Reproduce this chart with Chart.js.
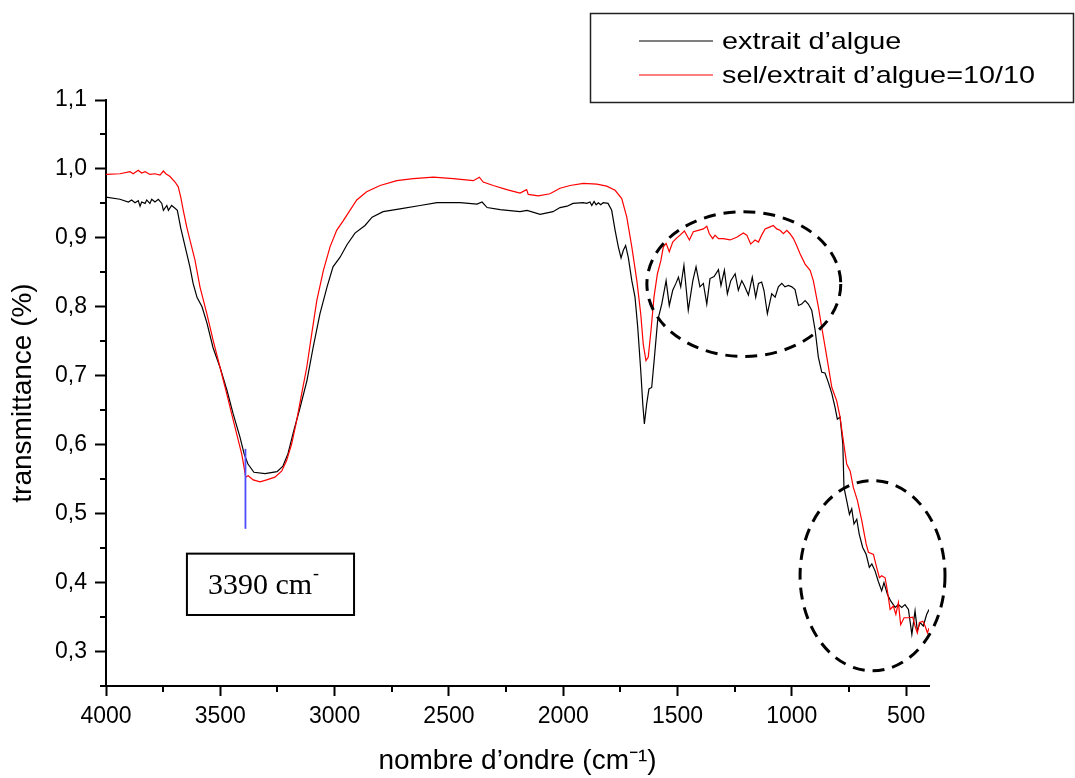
<!DOCTYPE html>
<html>
<head>
<meta charset="utf-8">
<script src="https://cdn.jsdelivr.net/npm/chart.js@4.4.1/dist/chart.umd.min.js"></script>
<style>
  html, body { margin: 0; padding: 0; background: #fff; }
  #wrap { width: 1075px; height: 778px; }
</style>
</head>
<body>
<div id="wrap"><canvas id="chart" width="1075" height="778"></canvas></div>
<script>
// extrait d'algue (black)
const algueWn = [4000, 3939, 3902, 3888, 3873, 3859, 3851, 3844, 3829, 3822, 3808, 3800, 3786, 3771, 3756, 3749, 3734, 3727, 3713, 3698,
  3688, 3681, 3673, 3650, 3633, 3619, 3602, 3580, 3558, 3532, 3501, 3471, 3444, 3414, 3396, 3379, 3353, 3304, 3252, 3226,
  3204, 3182, 3151, 3121, 3094, 3064, 3033, 3007, 2976, 2946, 2911, 2867, 2836, 2788, 2714, 2626, 2552, 2451, 2377, 2355,
  2333, 2276, 2189, 2158, 2101, 2045, 2014, 1983, 1957, 1913, 1897, 1883, 1875, 1865, 1856, 1846, 1836, 1825, 1804, 1788,
  1773, 1759, 1747, 1737, 1727, 1715, 1700, 1686, 1674, 1661, 1652, 1645, 1635, 1625, 1613, 1601, 1587, 1569, 1550, 1536,
  1521, 1507, 1496, 1486, 1472, 1453, 1433, 1419, 1402, 1387, 1372, 1358, 1340, 1321, 1310, 1295, 1282, 1267, 1248, 1234,
  1219, 1208, 1190, 1173, 1158, 1146, 1132, 1122, 1107, 1088, 1073, 1059, 1044, 1030, 1015, 1000, 986, 971, 957, 942,
  928, 913, 898, 884, 869, 855, 840, 825, 811, 801, 789, 777, 772, 760, 748, 738, 728, 716, 705, 690,
  675, 661, 650, 636, 622, 607, 597, 582, 567, 548, 534, 519, 505, 490, 475, 461, 451, 439, 425, 410, 400];
const algueT = [0.959, 0.956, 0.952, 0.955, 0.951, 0.954, 0.946, 0.952, 0.950, 0.955, 0.950, 0.956, 0.952, 0.956, 0.950, 0.940, 0.947, 0.940, 0.947, 0.943,
  0.940, 0.928, 0.914, 0.882, 0.858, 0.834, 0.814, 0.800, 0.776, 0.741, 0.712, 0.679, 0.645, 0.611, 0.587, 0.572, 0.560, 0.558, 0.561, 0.569,
  0.587, 0.616, 0.654, 0.693, 0.741, 0.790, 0.829, 0.858, 0.872, 0.890, 0.907, 0.918, 0.930, 0.938, 0.942, 0.947, 0.951, 0.951, 0.949, 0.952,
  0.944, 0.941, 0.938, 0.940, 0.934, 0.938, 0.944, 0.946, 0.950, 0.951, 0.950, 0.952, 0.947, 0.953, 0.948, 0.951, 0.948, 0.951, 0.950, 0.940,
  0.911, 0.887, 0.871, 0.882, 0.889, 0.871, 0.838, 0.814, 0.770, 0.708, 0.659, 0.630, 0.659, 0.681, 0.683, 0.727, 0.780, 0.804, 0.838, 0.802,
  0.824, 0.834, 0.843, 0.829, 0.860, 0.795, 0.838, 0.858, 0.829, 0.834, 0.804, 0.841, 0.844, 0.854, 0.831, 0.853, 0.819, 0.838, 0.848, 0.824,
  0.838, 0.831, 0.817, 0.843, 0.814, 0.834, 0.836, 0.824, 0.790, 0.819, 0.814, 0.829, 0.834, 0.829, 0.831, 0.829, 0.825, 0.802, 0.804, 0.809,
  0.804, 0.795, 0.766, 0.727, 0.705, 0.704, 0.690, 0.674, 0.654, 0.637, 0.640, 0.601, 0.538, 0.519, 0.499, 0.507, 0.485, 0.492, 0.470, 0.451,
  0.441, 0.422, 0.427, 0.417, 0.402, 0.388, 0.400, 0.383, 0.373, 0.364, 0.368, 0.364, 0.368, 0.361, 0.325, 0.359, 0.330, 0.342, 0.337, 0.354, 0.361];

// sel/extrait d'algue=10/10 (red)
const selWn = [4000, 3939, 3895, 3881, 3859, 3844, 3829, 3808, 3786, 3764, 3749, 3738, 3720, 3698, 3684, 3673, 3662, 3647, 3633, 3611,
  3589, 3559, 3531, 3501, 3472, 3443, 3421, 3406, 3396, 3389, 3378, 3356, 3326, 3297, 3261, 3231, 3210, 3188, 3166, 3144,
  3122, 3100, 3078, 3049, 3020, 2991, 2962, 2933, 2903, 2860, 2801, 2728, 2656, 2568, 2481, 2393, 2367, 2350, 2306, 2247,
  2189, 2160, 2153, 2109, 2058, 2014, 1970, 1912, 1853, 1810, 1773, 1744, 1722, 1700, 1678, 1661, 1650, 1638, 1628, 1616,
  1603, 1588, 1573, 1562, 1550, 1536, 1521, 1503, 1489, 1470, 1448, 1431, 1409, 1387, 1372, 1361, 1346, 1336, 1321, 1300,
  1270, 1241, 1212, 1197, 1180, 1161, 1146, 1132, 1117, 1095, 1081, 1066, 1052, 1037, 1022, 1008, 993, 979, 964, 942,
  920, 906, 884, 869, 847, 825, 804, 789, 777, 760, 745, 731, 713, 694, 675, 665, 643, 629, 617, 607,
  592, 582, 570, 556, 545, 534, 524, 509, 490, 471, 461, 451, 442, 427, 417, 407, 400];
const selT = [0.992, 0.993, 0.996, 0.993, 0.998, 0.994, 0.996, 0.992, 0.993, 0.991, 0.997, 0.993, 0.989, 0.981, 0.974, 0.959, 0.940, 0.916, 0.897, 0.868,
  0.829, 0.790, 0.751, 0.712, 0.674, 0.635, 0.606, 0.586, 0.567, 0.553, 0.555, 0.549, 0.546, 0.549, 0.553, 0.562, 0.577, 0.601, 0.635, 0.674,
  0.712, 0.761, 0.809, 0.853, 0.887, 0.911, 0.925, 0.940, 0.955, 0.967, 0.976, 0.983, 0.986, 0.988, 0.986, 0.983, 0.988, 0.981, 0.976, 0.970,
  0.965, 0.970, 0.963, 0.961, 0.964, 0.972, 0.976, 0.979, 0.978, 0.975, 0.969, 0.957, 0.930, 0.887, 0.838, 0.790, 0.746, 0.722, 0.727, 0.766,
  0.814, 0.848, 0.867, 0.887, 0.892, 0.880, 0.894, 0.900, 0.904, 0.910, 0.897, 0.909, 0.911, 0.913, 0.917, 0.906, 0.899, 0.904, 0.899, 0.899,
  0.897, 0.901, 0.907, 0.904, 0.891, 0.897, 0.894, 0.904, 0.913, 0.916, 0.918, 0.913, 0.911, 0.906, 0.911, 0.906, 0.899, 0.889, 0.877, 0.862,
  0.853, 0.838, 0.800, 0.770, 0.727, 0.683, 0.664, 0.640, 0.611, 0.572, 0.562, 0.538, 0.519, 0.490, 0.456, 0.444, 0.441, 0.422, 0.407, 0.410,
  0.407, 0.388, 0.361, 0.366, 0.354, 0.371, 0.339, 0.349, 0.349, 0.350, 0.337, 0.327, 0.342, 0.344, 0.337, 0.327, 0.334];

const seriesLabels = ['extrait d’algue', 'sel/extrait d’algue=10/10'];
const seriesColors = ['#000000', '#ff0000'];

// major tick positions
const xTickValues = [4000, 3500, 3000, 2500, 2000, 1500, 1000, 500];
const yTickValues = [0.3, 0.4, 0.5, 0.6, 0.7, 0.8, 0.9, 1.0, 1.1];

// annotations, in data units
const peakMark = { wn: 3390, from: 0.478, to: 0.594 };
const peakBox = { wnLeft: 3646, wnRight: 2915, top: 0.442, bottom: 0.353, text: '3390 cm', sup: '-' };
const circled = [
  { wn: 1210, t: 0.833, rWn: 424, rT: 0.105 },
  { wn: 647, t: 0.410, rWn: 317, rT: 0.138 }
];

const SANS = '"Liberation Sans", Arial, sans-serif';
const SERIF = '"Liberation Serif", "Times New Roman", serif';

const toPoints = (xs, ys) => xs.map((x, i) => ({ x: x, y: ys[i] }));

// short minor ticks halfway between the major ones
const minorTicks = {
  id: 'minorTicks',
  afterDraw(chart) {
    const ctx = chart.ctx;
    const xs = chart.scales.x, ys = chart.scales.y;
    ctx.save();
    ctx.strokeStyle = '#000';
    ctx.lineWidth = 2;
    const mids = (scale) => {
      const v = scale.ticks.map(t => t.value).sort((a, b) => a - b);
      const out = [];
      for (let i = 0; i < v.length - 1; i++) out.push((v[i] + v[i + 1]) / 2);
      const half = (v[1] - v[0]) / 2;
      if (v[0] - half >= scale.min - 1e-9) out.push(v[0] - half);
      return out;
    };
    mids(xs).forEach(v => {
      const p = Math.round(xs.getPixelForValue(v));
      ctx.beginPath(); ctx.moveTo(p, xs.top); ctx.lineTo(p, xs.top + 6); ctx.stroke();
    });
    mids(ys).forEach(v => {
      const p = Math.round(ys.getPixelForValue(v));
      ctx.beginPath(); ctx.moveTo(ys.right - 6, p); ctx.lineTo(ys.right, p); ctx.stroke();
    });
    ctx.restore();
  }
};

const marks = {
  id: 'marks',
  afterDraw(chart) {
    const ctx = chart.ctx;
    const xs = chart.scales.x, ys = chart.scales.y;
    ctx.save();

    // blue marker at 3390
    const bx = xs.getPixelForValue(peakMark.wn);
    ctx.strokeStyle = '#4d4dff';
    ctx.lineWidth = 1.8;
    ctx.beginPath();
    ctx.moveTo(bx, ys.getPixelForValue(peakMark.to));
    ctx.lineTo(bx, ys.getPixelForValue(peakMark.from));
    ctx.stroke();

    // label box
    const l = xs.getPixelForValue(peakBox.wnLeft), r = xs.getPixelForValue(peakBox.wnRight);
    const t = ys.getPixelForValue(peakBox.top), b = ys.getPixelForValue(peakBox.bottom);
    ctx.strokeStyle = '#000';
    ctx.lineWidth = 2;
    ctx.strokeRect(l, t, r - l, b - t);
    ctx.fillStyle = '#000';
    ctx.textBaseline = 'alphabetic';
    ctx.font = '30px ' + SERIF;
    ctx.fillText(peakBox.text, l + 21, b - 21);
    const w = ctx.measureText(peakBox.text).width;
    ctx.font = '18px ' + SERIF;
    ctx.fillText(peakBox.sup, l + 22 + w, b - 36);

    // dashed ellipses
    ctx.setLineDash([12, 8]);
    ctx.lineWidth = 3;
    circled.forEach(c => {
      const cx = xs.getPixelForValue(c.wn), cy = ys.getPixelForValue(c.t);
      const rx = Math.abs(xs.getPixelForValue(c.wn + c.rWn) - cx);
      const ry = Math.abs(ys.getPixelForValue(c.t + c.rT) - cy);
      ctx.beginPath();
      ctx.ellipse(cx, cy, rx, ry, 0, 0, Math.PI * 2);
      ctx.stroke();
    });
    ctx.restore();
  }
};

// framed legend in the upper right
const boxLegend = {
  id: 'boxLegend',
  afterDraw(chart) {
    const ctx = chart.ctx;
    ctx.save();
    ctx.strokeStyle = '#222';
    ctx.lineWidth = 1.5;
    ctx.strokeRect(590.5, 13.5, 483, 89);
    chart.data.datasets.forEach((ds, i) => {
      const yy = 41 + i * 34;
      ctx.strokeStyle = ds.borderColor;
      ctx.lineWidth = 1.2;
      ctx.beginPath(); ctx.moveTo(639, yy); ctx.lineTo(713, yy); ctx.stroke();
      ctx.fillStyle = '#000';
      ctx.font = '24px ' + SANS;
      ctx.textBaseline = 'middle';
      ctx.save();
      ctx.translate(722, yy + 1);
      ctx.scale(1.2, 1);
      ctx.fillText(ds.label, 0, 0);
      ctx.restore();
    });
    ctx.restore();
  }
};

new Chart(document.getElementById('chart'), {
  type: 'line',
  data: {
    datasets: [
      { label: seriesLabels[0], data: toPoints(algueWn, algueT), borderColor: seriesColors[0], borderWidth: 1.2, pointRadius: 0, tension: 0, order: 1 },
      { label: seriesLabels[1], data: toPoints(selWn, selT), borderColor: seriesColors[1], borderWidth: 1.2, pointRadius: 0, tension: 0, order: 0 }
    ]
  },
  options: {
    responsive: false,
    animation: false,
    layout: { padding: { left: 0, top: 100, right: 146, bottom: 0 } },
    plugins: { legend: { display: false }, tooltip: { enabled: false } },
    scales: {
      x: {
        type: 'linear',
        reverse: true,
        min: 400,
        max: 4000,
        border: { display: true, color: '#000', width: 2 },
        grid: { display: true, drawOnChartArea: false, drawTicks: true, tickLength: 10, tickColor: '#000', tickWidth: 2 },
        afterBuildTicks(s) { s.ticks = xTickValues.map(v => ({ value: v })); },
        ticks: {
          autoSkip: false, maxRotation: 0, padding: 7,
          color: '#000', font: { family: SANS, size: 23 },
          callback: v => String(v)
        },
        title: { display: true, text: 'nombre d’ondre (cm⁻¹)', color: '#000', font: { family: SANS, size: 28 }, padding: { top: 0, bottom: 0 } },
        afterFit(s) { s.height = 92; }
      },
      y: {
        type: 'linear',
        min: 0.25,
        max: 1.1,
        border: { display: true, color: '#000', width: 2 },
        grid: { display: true, drawOnChartArea: false, drawTicks: true, tickLength: 11, tickColor: '#000', tickWidth: 2 },
        afterBuildTicks(s) { s.ticks = yTickValues.map(v => ({ value: v })); },
        ticks: {
          autoSkip: false, padding: 8,
          color: '#000', font: { family: SANS, size: 23 },
          callback: v => v.toFixed(1).replace('.', ',')
        },
        title: { display: true, text: 'transmittance (%)', color: '#000', font: { family: SANS, size: 28 }, padding: { top: 6, bottom: 0 } },
        afterFit(s) { s.width = 106; }
      }
    }
  },
  plugins: [minorTicks, marks, boxLegend]
});
</script>
</body>
</html>
